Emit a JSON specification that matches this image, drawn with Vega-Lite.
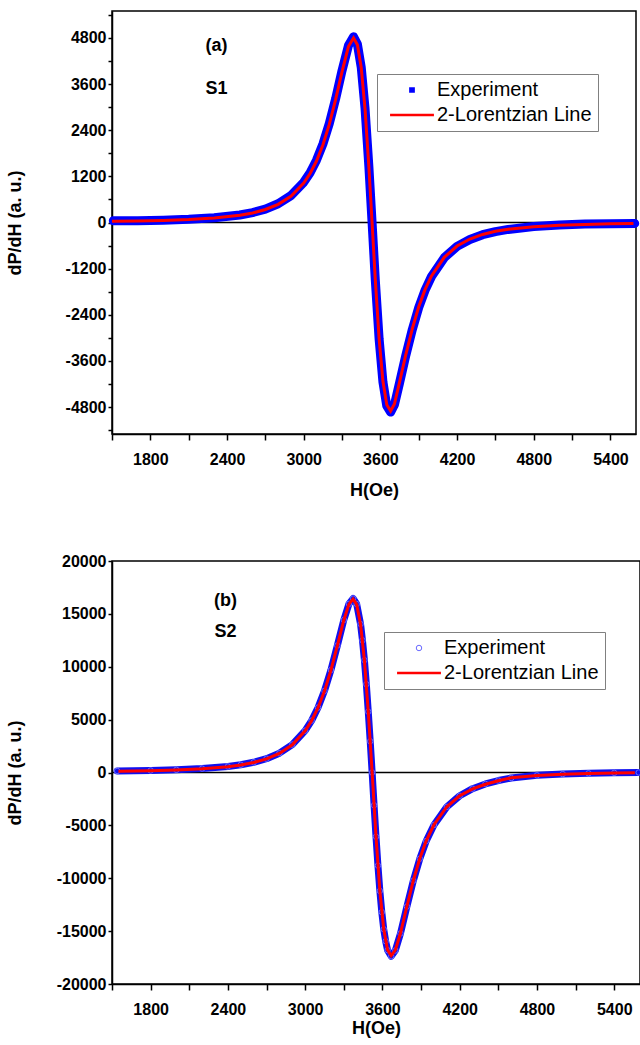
{
  "$schema": "https://vega.github.io/schema/vega-lite/v6.json",
  "background": "white",
  "padding": {"left": 5, "top": 10, "right": 2, "bottom": 4},
  "spacing": 52,
  "align": "none",
  "config": {
    "font": "Liberation Sans",
    "view": {"stroke": "black", "strokeWidth": 1.5},
    "axis": {
      "grid": false, "domainColor": "black", "domainWidth": 1.5,
      "tickColor": "black", "tickWidth": 1.5,
      "labelColor": "black", "labelFont": "Liberation Sans", "labelFontWeight": "bold", "labelFontSize": 16,
      "titleColor": "black", "titleFont": "Liberation Sans", "titleFontWeight": "bold", "titleFontSize": 18,
      "labelOverlap": false, "labelFlush": false
    },
    "legend": {
      "title": null, "orient": "none", "strokeColor": "#808080", "padding": 6,
      "labelFont": "Liberation Sans", "labelFontSize": 20, "labelColor": "black",
      "rowPadding": 5, "labelOffset": 15, "symbolOffset": 19
    }
  },
  "datasets": {
    "zero": [{"z": 0}],
    "notes_a": [{"H": 2318, "v": 4600, "t": "(a)"}, {"H": 2318, "v": 3480, "t": "S1"}],
    "notes_b": [{"H": 2381, "v": 16200, "t": "(b)"}, {"H": 2381, "v": 13300, "t": "S2"}],
    "a_exp": [
      {"H": 1510, "v": 45, "series": "Experiment"}, {"H": 1700, "v": 45, "series": "Experiment"},
      {"H": 1900, "v": 58, "series": "Experiment"}, {"H": 2100, "v": 82, "series": "Experiment"},
      {"H": 2300, "v": 122, "series": "Experiment"}, {"H": 2500, "v": 196, "series": "Experiment"},
      {"H": 2600, "v": 258, "series": "Experiment"}, {"H": 2700, "v": 350, "series": "Experiment"},
      {"H": 2800, "v": 488, "series": "Experiment"}, {"H": 2900, "v": 700, "series": "Experiment"},
      {"H": 3000, "v": 1045, "series": "Experiment"}, {"H": 3050, "v": 1295, "series": "Experiment"},
      {"H": 3100, "v": 1620, "series": "Experiment"}, {"H": 3150, "v": 2040, "series": "Experiment"},
      {"H": 3200, "v": 2570, "series": "Experiment"}, {"H": 3250, "v": 3220, "series": "Experiment"},
      {"H": 3300, "v": 3950, "series": "Experiment"}, {"H": 3350, "v": 4600, "series": "Experiment"},
      {"H": 3390, "v": 4830, "series": "Experiment"}, {"H": 3420, "v": 4640, "series": "Experiment"},
      {"H": 3450, "v": 4040, "series": "Experiment"}, {"H": 3480, "v": 2960, "series": "Experiment"},
      {"H": 3510, "v": 1450, "series": "Experiment"}, {"H": 3535, "v": 0, "series": "Experiment"},
      {"H": 3560, "v": -1490, "series": "Experiment"}, {"H": 3590, "v": -3030, "series": "Experiment"},
      {"H": 3620, "v": -4150, "series": "Experiment"}, {"H": 3650, "v": -4770, "series": "Experiment"},
      {"H": 3680, "v": -4930, "series": "Experiment"}, {"H": 3710, "v": -4740, "series": "Experiment"},
      {"H": 3750, "v": -4170, "series": "Experiment"}, {"H": 3800, "v": -3440, "series": "Experiment"},
      {"H": 3850, "v": -2780, "series": "Experiment"}, {"H": 3900, "v": -2210, "series": "Experiment"},
      {"H": 3950, "v": -1760, "series": "Experiment"}, {"H": 4000, "v": -1405, "series": "Experiment"},
      {"H": 4100, "v": -915, "series": "Experiment"}, {"H": 4200, "v": -620, "series": "Experiment"},
      {"H": 4300, "v": -440, "series": "Experiment"}, {"H": 4400, "v": -318, "series": "Experiment"},
      {"H": 4500, "v": -236, "series": "Experiment"}, {"H": 4600, "v": -180, "series": "Experiment"},
      {"H": 4800, "v": -105, "series": "Experiment"}, {"H": 5000, "v": -65, "series": "Experiment"},
      {"H": 5200, "v": -42, "series": "Experiment"}, {"H": 5400, "v": -30, "series": "Experiment"},
      {"H": 5590, "v": -25, "series": "Experiment"}
    ],
    "a_fit": [
      {"H": 1500, "v": 30}, {"H": 1700, "v": 37}, {"H": 1900, "v": 52}, {"H": 2100, "v": 75},
      {"H": 2300, "v": 115}, {"H": 2500, "v": 188}, {"H": 2600, "v": 248}, {"H": 2700, "v": 338},
      {"H": 2800, "v": 472}, {"H": 2900, "v": 683}, {"H": 3000, "v": 1025}, {"H": 3050, "v": 1274},
      {"H": 3100, "v": 1598}, {"H": 3150, "v": 2017}, {"H": 3200, "v": 2550}, {"H": 3250, "v": 3200},
      {"H": 3300, "v": 3925}, {"H": 3350, "v": 4575}, {"H": 3390, "v": 4800}, {"H": 3420, "v": 4625},
      {"H": 3450, "v": 4030}, {"H": 3480, "v": 2950}, {"H": 3510, "v": 1440}, {"H": 3535, "v": 0},
      {"H": 3560, "v": -1480}, {"H": 3590, "v": -3020}, {"H": 3620, "v": -4130}, {"H": 3650, "v": -4740},
      {"H": 3680, "v": -4900}, {"H": 3710, "v": -4720}, {"H": 3750, "v": -4150}, {"H": 3800, "v": -3420},
      {"H": 3850, "v": -2760}, {"H": 3900, "v": -2190}, {"H": 3950, "v": -1740}, {"H": 4000, "v": -1390},
      {"H": 4100, "v": -905}, {"H": 4200, "v": -612}, {"H": 4300, "v": -430}, {"H": 4400, "v": -310},
      {"H": 4500, "v": -230}, {"H": 4600, "v": -175}, {"H": 4800, "v": -108}, {"H": 5000, "v": -71},
      {"H": 5200, "v": -49}, {"H": 5400, "v": -35}, {"H": 5580, "v": -28}
    ],
    "b_exp": [
      {"H": 1540, "v": 150, "series": "Experiment"}, {"H": 1800, "v": 190, "series": "Experiment"},
      {"H": 2000, "v": 255, "series": "Experiment"}, {"H": 2200, "v": 370, "series": "Experiment"},
      {"H": 2400, "v": 570, "series": "Experiment"}, {"H": 2500, "v": 730, "series": "Experiment"},
      {"H": 2600, "v": 965, "series": "Experiment"}, {"H": 2700, "v": 1305, "series": "Experiment"},
      {"H": 2800, "v": 1825, "series": "Experiment"}, {"H": 2900, "v": 2640, "series": "Experiment"},
      {"H": 3000, "v": 3960, "series": "Experiment"}, {"H": 3050, "v": 4910, "series": "Experiment"},
      {"H": 3100, "v": 6140, "series": "Experiment"}, {"H": 3150, "v": 7720, "series": "Experiment"},
      {"H": 3200, "v": 9690, "series": "Experiment"}, {"H": 3250, "v": 12010, "series": "Experiment"},
      {"H": 3300, "v": 14420, "series": "Experiment"}, {"H": 3340, "v": 15950, "series": "Experiment"},
      {"H": 3372, "v": 16450, "series": "Experiment"}, {"H": 3400, "v": 15930, "series": "Experiment"},
      {"H": 3430, "v": 14040, "series": "Experiment"}, {"H": 3445, "v": 12500, "series": "Experiment"},
      {"H": 3460, "v": 10620, "series": "Experiment"}, {"H": 3475, "v": 8350, "series": "Experiment"},
      {"H": 3490, "v": 5750, "series": "Experiment"}, {"H": 3505, "v": 2950, "series": "Experiment"},
      {"H": 3520, "v": 0, "series": "Experiment"}, {"H": 3535, "v": -3100, "series": "Experiment"},
      {"H": 3550, "v": -6070, "series": "Experiment"}, {"H": 3565, "v": -8800, "series": "Experiment"},
      {"H": 3580, "v": -11200, "series": "Experiment"}, {"H": 3595, "v": -13200, "series": "Experiment"},
      {"H": 3610, "v": -14820, "series": "Experiment"}, {"H": 3625, "v": -15950, "series": "Experiment"},
      {"H": 3640, "v": -16800, "series": "Experiment"}, {"H": 3668, "v": -17380, "series": "Experiment"},
      {"H": 3700, "v": -16830, "series": "Experiment"}, {"H": 3740, "v": -15220, "series": "Experiment"},
      {"H": 3790, "v": -12670, "series": "Experiment"}, {"H": 3840, "v": -10230, "series": "Experiment"},
      {"H": 3890, "v": -8150, "series": "Experiment"}, {"H": 3940, "v": -6480, "series": "Experiment"},
      {"H": 4000, "v": -4960, "series": "Experiment"}, {"H": 4100, "v": -3250, "series": "Experiment"},
      {"H": 4200, "v": -2200, "series": "Experiment"}, {"H": 4300, "v": -1530, "series": "Experiment"},
      {"H": 4400, "v": -1080, "series": "Experiment"}, {"H": 4500, "v": -760, "series": "Experiment"},
      {"H": 4600, "v": -520, "series": "Experiment"}, {"H": 4800, "v": -270, "series": "Experiment"},
      {"H": 5000, "v": -150, "series": "Experiment"}, {"H": 5200, "v": -80, "series": "Experiment"},
      {"H": 5400, "v": -30, "series": "Experiment"}, {"H": 5590, "v": 0, "series": "Experiment"}
    ],
    "b_fit": [
      {"H": 1550, "v": 108}, {"H": 1800, "v": 161}, {"H": 2000, "v": 231}, {"H": 2200, "v": 346},
      {"H": 2400, "v": 551}, {"H": 2500, "v": 714}, {"H": 2600, "v": 947}, {"H": 2700, "v": 1289},
      {"H": 2800, "v": 1807}, {"H": 2900, "v": 2619}, {"H": 3000, "v": 3937}, {"H": 3050, "v": 4892},
      {"H": 3100, "v": 6122}, {"H": 3150, "v": 7700}, {"H": 3200, "v": 9670}, {"H": 3250, "v": 11990},
      {"H": 3300, "v": 14400}, {"H": 3340, "v": 15920}, {"H": 3372, "v": 16400}, {"H": 3400, "v": 15900},
      {"H": 3430, "v": 14020}, {"H": 3460, "v": 10600}, {"H": 3490, "v": 5737}, {"H": 3520, "v": 0},
      {"H": 3550, "v": -6055}, {"H": 3580, "v": -11190}, {"H": 3610, "v": -14800}, {"H": 3640, "v": -16780},
      {"H": 3668, "v": -17310}, {"H": 3700, "v": -16800}, {"H": 3740, "v": -15200}, {"H": 3790, "v": -12650},
      {"H": 3840, "v": -10210}, {"H": 3890, "v": -8130}, {"H": 3940, "v": -6460}, {"H": 4000, "v": -4941},
      {"H": 4100, "v": -3239}, {"H": 4200, "v": -2203}, {"H": 4300, "v": -1553}, {"H": 4400, "v": -1110},
      {"H": 4500, "v": -780}, {"H": 4600, "v": -500}, {"H": 4800, "v": -280}, {"H": 5000, "v": -170},
      {"H": 5200, "v": -100}, {"H": 5400, "v": -50}, {"H": 5560, "v": -20}
    ]
  },
  "vconcat": [
    {
      "width": 524,
      "height": 423,
      "resolve": {"axis": {"y": "independent"}},
      "layer": [
        {
          "data": {"name": "zero"},
          "mark": {"type": "rule", "color": "black", "strokeWidth": 1.5},
          "encoding": {
            "y": {
              "field": "z", "type": "quantitative",
              "scale": {"domain": [-5500, 5500], "nice": false, "zero": false},
              "axis": {
                "orient": "left",
                "title": "dP/dH (a. u.)", "titlePadding": 41, "tickSize": 4, "labelPadding": 2, "labelOverlap": false,
                "values": [-4800, -3600, -2400, -1200, 0, 1200, 2400, 3600, 4800],
                "labelExpr": "'' + datum.value"
              }
            }
          }
        },
        {
          "data": {"name": "a_exp"},
          "mark": {"type": "line", "color": "#0000ff", "strokeWidth": 9, "strokeJoin": "round", "strokeCap": "round"},
          "encoding": {
            "x": {
              "field": "H", "type": "quantitative",
              "scale": {"domain": [1500, 5600], "nice": false, "zero": false},
              "axis": {
                "title": "H(Oe)", "tickSize": 6, "labelPadding": 11, "titlePadding": 14, "labelOverlap": false,
                "values": [1500, 1800, 2100, 2400, 2700, 3000, 3300, 3600, 3900, 4200, 4500, 4800, 5100, 5400],
                "labelExpr": "(datum.value - 1800) % 600 === 0 ? '' + datum.value : ''"
              }
            },
            "y": {
              "field": "v", "type": "quantitative",
              "axis": {
                "orient": "left", "title": null, "labels": false, "domain": false, "tickSize": 4,
                "values": [-5400, -4200, -3000, -1800, -600, 600, 1800, 3000, 4200, 5400]
              }
            }
          }
        },
        {
          "data": {"name": "a_exp"},
          "mark": {"type": "point", "filled": true, "opacity": 1},
          "encoding": {
            "x": {"field": "H", "type": "quantitative"},
            "y": {"field": "v", "type": "quantitative", "axis": null},
            "shape": {"field": "series", "type": "nominal", "scale": {"domain": ["Experiment", "2-Lorentzian Line"], "range": ["square", "M-5,0H5"]}, "legend": {"legendX": 265, "legendY": 63}},
            "fill": {"field": "series", "type": "nominal", "scale": {"domain": ["Experiment", "2-Lorentzian Line"], "range": ["#0000ff", "transparent"]}, "legend": {"legendX": 265, "legendY": 63}},
            "stroke": {"field": "series", "type": "nominal", "scale": {"domain": ["Experiment", "2-Lorentzian Line"], "range": ["#0000ff", "#ff0000"]}, "legend": {"legendX": 265, "legendY": 63}},
            "size": {"field": "series", "type": "ordinal", "scale": {"domain": ["Experiment", "2-Lorentzian Line"], "range": [14, 77]}, "legend": {"legendX": 265, "legendY": 63}},
            "strokeWidth": {"field": "series", "type": "ordinal", "scale": {"domain": ["Experiment", "2-Lorentzian Line"], "range": [2, 2.5]}, "legend": {"legendX": 265, "legendY": 63}}
          }
        },
        {
          "data": {"name": "a_fit"},
          "mark": {"type": "line", "color": "#ff0000", "strokeWidth": 3},
          "encoding": {
            "x": {"field": "H", "type": "quantitative"},
            "y": {"field": "v", "type": "quantitative", "axis": null}
          }
        },
        {
          "data": {"name": "notes_a"},
          "mark": {"type": "text", "font": "Liberation Sans", "fontWeight": "bold", "fontSize": 18, "color": "black"},
          "encoding": {
            "x": {"field": "H", "type": "quantitative"},
            "y": {"field": "v", "type": "quantitative", "axis": null},
            "text": {"field": "t"}
          }
        }
      ]
    },
    {
      "width": 528,
      "height": 423,
      "layer": [
        {
          "data": {"name": "zero"},
          "mark": {"type": "rule", "color": "black", "strokeWidth": 1.5},
          "encoding": {
            "y": {
              "field": "z", "type": "quantitative",
              "scale": {"domain": [-20000, 20000], "nice": false, "zero": false},
              "axis": {
                "title": "dP/dH (a. u.)", "titlePadding": 32, "tickSize": 4, "labelPadding": 2, "labelOverlap": false,
                "values": [-20000, -17500, -15000, -12500, -10000, -7500, -5000, -2500, 0, 2500, 5000, 7500, 10000, 12500, 15000, 17500, 20000],
                "labelExpr": "datum.value % 5000 === 0 ? '' + datum.value : ''"
              }
            }
          }
        },
        {
          "data": {"name": "b_exp"},
          "mark": {"type": "line", "color": "#1010f0", "strokeWidth": 7, "strokeJoin": "round", "strokeCap": "round"},
          "encoding": {
            "x": {
              "field": "H", "type": "quantitative",
              "scale": {"domain": [1500, 5600], "nice": false, "zero": false},
              "axis": {
                "title": "H(Oe)", "tickSize": 6, "labelPadding": 11, "titlePadding": 2, "labelOverlap": false,
                "values": [1500, 1800, 2100, 2400, 2700, 3000, 3300, 3600, 3900, 4200, 4500, 4800, 5100, 5400],
                "labelExpr": "(datum.value - 1800) % 600 === 0 ? '' + datum.value : ''"
              }
            },
            "y": {"field": "v", "type": "quantitative"}
          }
        },
        {
          "data": {"name": "b_exp"},
          "mark": {"type": "point", "filled": false, "opacity": 1},
          "encoding": {
            "x": {"field": "H", "type": "quantitative"},
            "y": {"field": "v", "type": "quantitative"},
            "shape": {"field": "series", "type": "nominal", "scale": {"domain": ["Experiment", "2-Lorentzian Line"], "range": ["circle", "M-5,0H5"]}, "legend": {"legendX": 272, "legendY": 71}},
            "stroke": {"field": "series", "type": "nominal", "scale": {"domain": ["Experiment", "2-Lorentzian Line"], "range": ["#6a6aff", "#ff0000"]}, "legend": {"legendX": 272, "legendY": 71}},
            "size": {"field": "series", "type": "ordinal", "scale": {"domain": ["Experiment", "2-Lorentzian Line"], "range": [30, 77]}, "legend": {"legendX": 272, "legendY": 71}},
            "strokeWidth": {"field": "series", "type": "ordinal", "scale": {"domain": ["Experiment", "2-Lorentzian Line"], "range": [1, 2.5]}, "legend": {"legendX": 272, "legendY": 71}}
          }
        },
        {
          "data": {"name": "b_fit"},
          "mark": {"type": "line", "color": "#ff0000", "strokeWidth": 3},
          "encoding": {
            "x": {"field": "H", "type": "quantitative"},
            "y": {"field": "v", "type": "quantitative"}
          }
        },
        {
          "data": {"name": "notes_b"},
          "mark": {"type": "text", "font": "Liberation Sans", "fontWeight": "bold", "fontSize": 18, "color": "black"},
          "encoding": {
            "x": {"field": "H", "type": "quantitative"},
            "y": {"field": "v", "type": "quantitative"},
            "text": {"field": "t"}
          }
        }
      ]
    }
  ],
  "resolve": {"scale": {"shape": "independent", "fill": "independent", "stroke": "independent", "size": "independent", "strokeWidth": "independent"}, "legend": {"shape": "independent", "fill": "independent", "stroke": "independent", "size": "independent", "strokeWidth": "independent"}}
}
